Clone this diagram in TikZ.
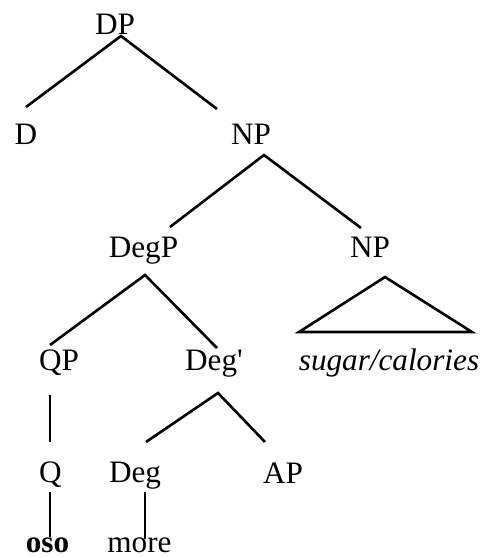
\documentclass[tikz,border=0pt]{standalone}
\usepackage{fontspec}
\setmainfont{Liberation Serif}
\newfontfamily\rawtimes{Liberation Serif}
\begin{document}
\begin{tikzpicture}[x=1pt,y=-1pt,
  lbl/.style={anchor=base,inner sep=0pt,font=\fontsize{31.2}{36}\selectfont},
  edge/.style={line width=2.6pt,line cap=butt}]
\useasboundingbox (0,0) rectangle (482,558);
% labels
\node[lbl] (DP) at (115,34) {DP};
\node[lbl] (D) at (26,144) {D};
\node[lbl] (NP) at (251,144) {NP};
\node[lbl] (DegP) at (143.5,257) {DegP};
\node[lbl] (NPb) at (370,257) {NP};
\node[lbl] (QP) at (59,370) {QP};
\node[lbl] (Degbar) at (214,370) {Deg{\rawtimes'}};
\node[lbl] (sugar) at (389,370) {\itshape sugar/calories};
\node[lbl] (Q) at (50.5,482) {Q};
\node[lbl] (Deg) at (135,482) {Deg};
\node[lbl] (AP) at (283,483) {AP};
\node[lbl,text depth=0pt] (oso) at (47.5,552.5) {\bfseries oso};
\node[lbl,text depth=0pt] (more) at (139.5,552.5) {more};
% connector ends
\coordinate (DPa) at (121,36);
\coordinate (Dt) at (26,107);
\coordinate (NPt) at (217,109);
\coordinate (NPa) at (264,155);
\coordinate (DegPt) at (170,227);
\coordinate (NPbt) at (361,228);
\coordinate (DegPa) at (145,275);
\coordinate (QPt) at (50,345);
\coordinate (Degbart) at (217,348);
\coordinate (QPa) at (50,395);
\coordinate (Qt) at (50,442);
\coordinate (Qa) at (50,492);
\coordinate (osot) at (50,537);
\coordinate (Degbara) at (218,393);
\coordinate (Degt) at (146,442);
\coordinate (APt) at (265,442);
\coordinate (Dega) at (145,492);
\coordinate (moret) at (145,539);
\coordinate (TriA) at (385,277);
\coordinate (TriL) at (299,332);
\coordinate (TriR) at (472,332);
% connectors
\draw[edge] (Dt) -- (DPa) -- (NPt);
\draw[edge] (DegPt) -- (NPa) -- (NPbt);
\draw[edge] (QPt) -- (DegPa) -- (Degbart);
\draw[edge] (QPa) -- (Qt);
\draw[edge] (Qa) -- (osot);
\draw[edge] (Degt) -- (Degbara) -- (APt);
\draw[edge] (Dega) -- (moret);
\draw[edge,line join=miter] (TriA) -- (TriL) -- (TriR) -- cycle;
\end{tikzpicture}
\end{document}
